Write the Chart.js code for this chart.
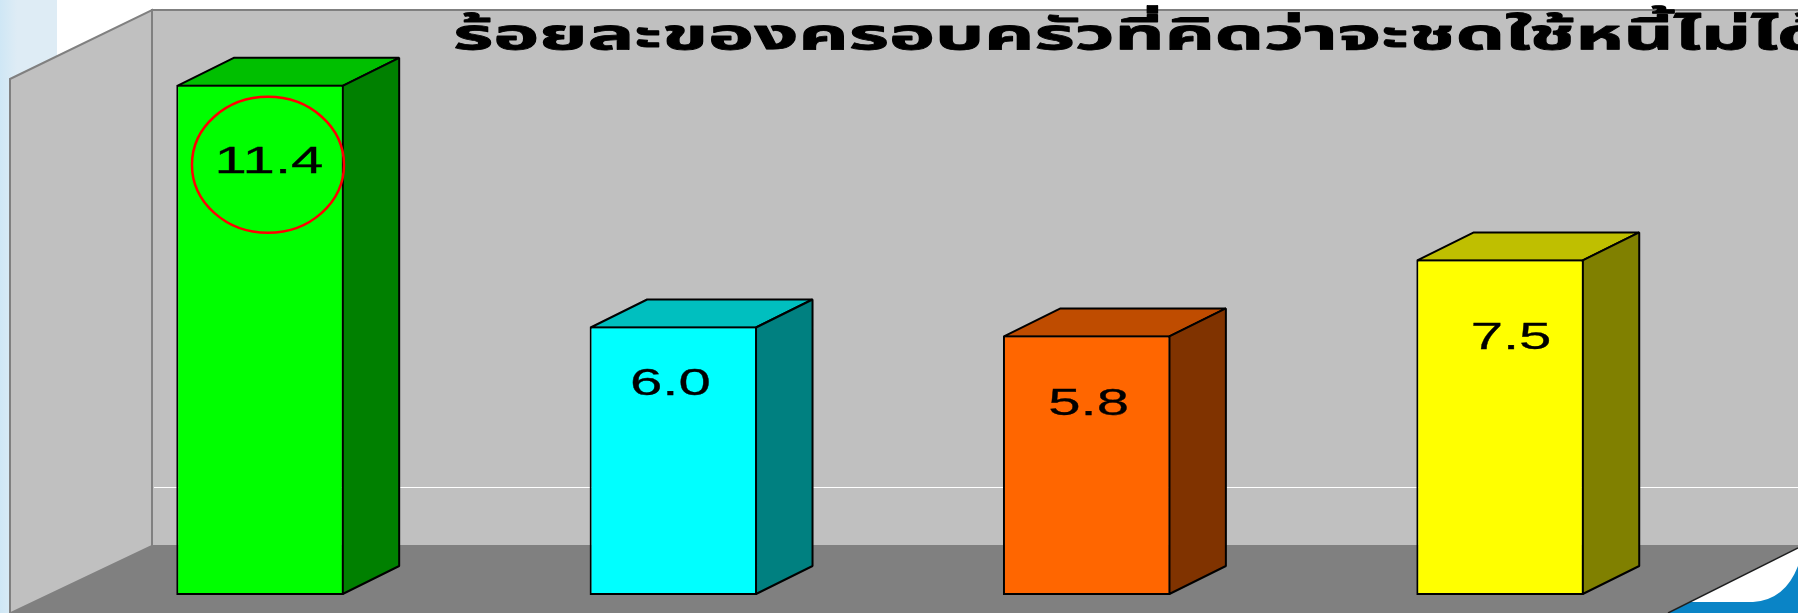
<!DOCTYPE html>
<html lang="th">
<head>
<meta charset="utf-8">
<title>ร้อยละของครอบครัวที่คิดว่าจะชดใช้หนี้ไม่ได้</title>
<script src="https://cdn.jsdelivr.net/npm/chart.js@4"></script>
<style>
  html, body { margin: 0; padding: 0; background: #fff; overflow: hidden; }
  canvas { display: block; }
</style>
</head>
<body>
<canvas id="grafico" width="1798" height="613"></canvas>
<script>
// === Dados ===
const titleText = "ร้อยละของครอบครัวที่คิดว่าจะชดใช้หนี้ไม่ได้";
const categories = ["1", "2", "3", "4"];
const values = [11.4, 6.0, 5.8, 7.5];
const frontColors = ["#00ff00", "#00ffff", "#ff6600", "#ffff00"];
const topColors = ["#00bf00", "#00bfbf", "#bf4c00", "#bfbf00"];
const sideColors = ["#008000", "#008080", "#803300", "#808000"];
const labelOffsets = [78, 58, 69, 79]; // distance from bar top to label centre
const labelShifts = [9, -3, 2, 11];
const gridValue = 1.35;

// profundidade do efeito 3D
const depthX = 56.5;
const depthY = 28;
const wallDepthY = 48;

function poly(ctx, pts, fill, stroke, lw) {
  ctx.beginPath();
  pts.forEach((p, i) => (i ? ctx.lineTo(p[0], p[1]) : ctx.moveTo(p[0], p[1])));
  ctx.closePath();
  if (fill) { ctx.fillStyle = fill; ctx.fill(); }
  if (stroke) { ctx.strokeStyle = stroke; ctx.lineWidth = lw; ctx.stroke(); }
}

// === Fundo, paredes e chão ===
const wallsPlugin = {
  id: "walls",
  beforeDraw(chart) {
    const { ctx, width, height, scales } = chart;
    const backLeft = 152;
    const backTop = scales.y.top - wallDepthY;
    const backBottom = scales.y.bottom - wallDepthY - 1;
    ctx.save();
    ctx.fillStyle = "#fff";
    ctx.fillRect(0, 0, width, height);
    const band = ctx.createLinearGradient(0, 0, 57, 0);
    band.addColorStop(0, "#cfe7f5");
    band.addColorStop(0.3, "#deecf5");
    band.addColorStop(1, "#deecf5");
    ctx.fillStyle = band;
    ctx.fillRect(0, 0, 57, height);

    poly(ctx, [[backLeft, backTop], [width + 2, backTop], [width + 2, backBottom], [backLeft, backBottom]], "#c0c0c0", "#808080", 2);
    poly(ctx, [[backLeft, backBottom], [width, backBottom], [width, height], [11, height]], "#808080");
    poly(ctx, [[10, 79], [backLeft, backTop], [backLeft, backBottom], [11, height], [10, height]], "#c0c0c0", "#808080", 2);

    // linha de grade
    const gy = Math.round(scales.y.getPixelForValue(gridValue) - wallDepthY) + 0.5;
    ctx.strokeStyle = "#ffffff";
    ctx.lineWidth = 1;
    ctx.beginPath();
    ctx.moveTo(backLeft + 2, gy);
    ctx.lineTo(width, gy);
    ctx.stroke();

    // canto inferior direito
    poly(ctx, [[1668, height], [width, 548], [width, height]], "#0a84c6");
    ctx.beginPath();
    ctx.moveTo(1690, 602);
    ctx.lineTo(1753, 602);
    ctx.quadraticCurveTo(1785, 600, width, 566);
    ctx.lineTo(width, 548);
    ctx.closePath();
    ctx.fillStyle = "#ffffff";
    ctx.fill();
    ctx.beginPath();
    ctx.moveTo(1668, height);
    ctx.lineTo(width, 548);
    ctx.strokeStyle = "#202020";
    ctx.lineWidth = 1.5;
    ctx.stroke();
    ctx.restore();
  },
  // faces laterais e de cima das barras
  beforeDatasetsDraw(chart) {
    const { ctx } = chart;
    ctx.save();
    ctx.lineJoin = "bevel";
    chart.getDatasetMeta(0).data.forEach((bar, i) => {
      const p = bar.getProps(["x", "y", "base", "width"], true);
      const l = p.x - p.width / 2 + 1;
      const r = p.x + p.width / 2 - 1;
      const t = p.y + 1;
      const b = p.base - 1;
      poly(ctx, [[l, t], [l + depthX, t - depthY], [r + depthX, t - depthY], [r, t]], topColors[i], "#000", 2);
      poly(ctx, [[r, t], [r + depthX, t - depthY], [r + depthX, b - depthY], [r, b]], sideColors[i], "#000", 2);
    });
    ctx.restore();
  },
  afterDatasetsDraw(chart) {
    const { ctx, scales } = chart;
    const bars = chart.getDatasetMeta(0).data;
    ctx.save();

    // rótulos esticados na horizontal
    ctx.fillStyle = "#000";
    ctx.strokeStyle = "#000";
    ctx.lineWidth = 0.3;
    ctx.textAlign = "center";
    ctx.textBaseline = "middle";
    ctx.font = "37px 'Liberation Sans'";
    bars.forEach((bar, i) => {
      const p = bar.getProps(["x", "y"], true);
      ctx.save();
      ctx.translate(p.x + labelShifts[i], p.y + labelOffsets[i]);
      ctx.scale(1.57, 1);
      ctx.fillText(values[i].toFixed(1), 0, 0);
      ctx.strokeText(values[i].toFixed(1), 0, 0);
      ctx.restore();
    });

    // círculo vermelho no maior valor
    const first = bars[0].getProps(["x", "y"], true);
    ctx.beginPath();
    ctx.ellipse(first.x + 8, first.y + 80, 76, 68, 0, 0, Math.PI * 2);
    ctx.strokeStyle = "#ff0000";
    ctx.lineWidth = 2.5;
    ctx.stroke();

    // título
    ctx.save();
    ctx.textAlign = "left";
    ctx.textBaseline = "alphabetic";
    ctx.fillStyle = "#000";
    ctx.strokeStyle = "#000";
    ctx.lineWidth = 0.8;
    ctx.lineJoin = "round";
    ctx.font = "bold 42px 'Noto Sans', 'Noto Sans Thai', sans-serif";
    ctx.translate(453, scales.y.top - 9);
    ctx.scale(1.85, 1);
    ctx.fillText(titleText, 0, 0);
    ctx.strokeText(titleText, 0, 0);
    ctx.restore();
    ctx.restore();
  }
};

// === Criação do gráfico ===
new Chart(document.getElementById("grafico").getContext("2d"), {
  type: "bar",
  data: {
    labels: categories,
    datasets: [{
      data: values,
      backgroundColor: frontColors,
      borderColor: "#000",
      borderWidth: 2,
      borderSkipped: false,
      barPercentage: 1,
      categoryPercentage: 0.405
    }]
  },
  options: {
    responsive: false,
    animation: false,
    layout: { padding: { left: 53.3, right: 91.3, top: 58, bottom: 18 } },
    plugins: { legend: { display: false }, title: { display: false }, tooltip: { enabled: false } },
    scales: {
      x: { display: false },
      y: { display: false, min: 0, max: 12 }
    }
  },
  plugins: [wallsPlugin]
});
</script>
</body>
</html>
